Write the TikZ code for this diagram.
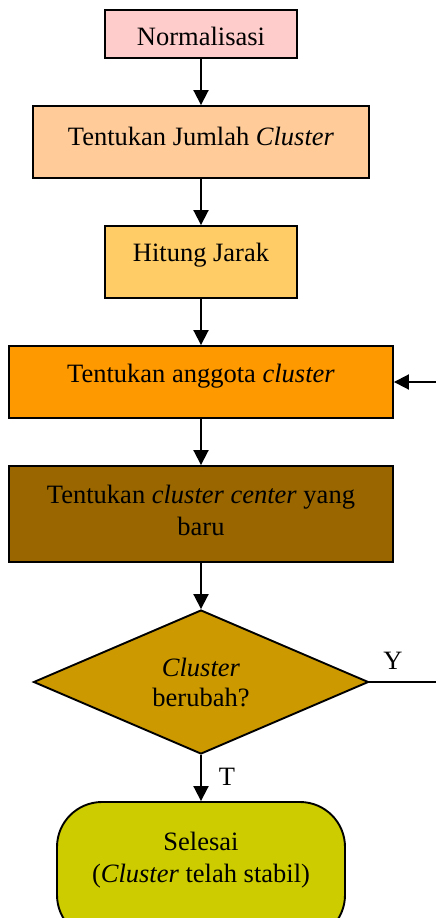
\documentclass[tikz,border=0pt]{standalone}
\usepackage{fontspec}
\setmainfont{Liberation Serif}
\usetikzlibrary{arrows.meta,shapes.geometric}
\definecolor{cA}{HTML}{FFCCCC}
\definecolor{cB}{HTML}{FFCC99}
\definecolor{cC}{HTML}{FFCC66}
\definecolor{cD}{HTML}{FF9900}
\definecolor{cE}{HTML}{996600}
\definecolor{cF}{HTML}{CC9900}
\definecolor{cG}{HTML}{CCCC00}
\tikzset{
  box/.style={draw=black, line width=1.9pt, rectangle, inner sep=0pt},
  txt/.style={inner sep=0pt, align=center},
  arr/.style={line width=1.9pt, -{Triangle[width=15pt,length=15pt]}},
  ln/.style={line width=1.9pt},
}
\begin{document}
\begin{tikzpicture}[x=1pt,y=-1pt,font=\fontsize{26.5}{32}\selectfont]
\useasboundingbox (0,0) rectangle (436,918);
\clip (0,0) rectangle (436,918);
\node[box, fill=cA, minimum width=192pt, minimum height=48pt] (n1) at (201,34) {};
\node[txt] at (201,36) {Normalisasi};
\node[box, fill=cB, minimum width=336pt, minimum height=72pt] (n2) at (201,142) {};
\node[txt] at (201,136) {Tentukan Jumlah \textit{Cluster}};
\node[box, fill=cC, minimum width=192pt, minimum height=72pt] (n3) at (201,262) {};
\node[txt] at (201,255) {Hitung Jarak};
\node[box, fill=cD, minimum width=384pt, minimum height=72pt] (n4) at (201,382) {};
\node[txt] at (201,376) {Tentukan anggota \textit{cluster}};
\node[box, fill=cE, minimum width=384pt, minimum height=96pt] (n5) at (201,514) {};
\node[txt] at (201,510) {Tentukan \textit{cluster center} yang\\baru};
\node[draw=black, line width=1.9pt, diamond, fill=cF, aspect=2.33, inner sep=0pt,
      minimum width=335pt, minimum height=144pt, align=center,
      font=\fontsize{26.5}{30}\selectfont] (d) at (201,682) {\textit{Cluster}\\berubah?};
\node[draw=black, line width=1.9pt, rectangle, rounded corners=45pt, fill=cG,
      minimum width=288pt, minimum height=138pt, inner sep=0pt] (e) at (201,871) {};
\node[txt] at (201,860) {Selesai\\(\textit{Cluster} telah stabil)};
\draw[arr] (n1) -- (n2);
\draw[arr] (n2) -- (n3);
\draw[arr] (n3) -- (n4);
\draw[arr] (n4) -- (n5);
\draw[arr] (n5) -- (d);
\draw[arr] (d) -- (e);
\coordinate (r1) at (442,682);
\coordinate (r2) at (442,382);
\draw[ln] (d.east) -- (r1) -- (r2);
\draw[arr] (r2) -- (n4.east);
\node[txt] (ylab) at (393,661) {Y};
\node[txt] (tlab) at (227,777) {T};
\end{tikzpicture}
\end{document}
